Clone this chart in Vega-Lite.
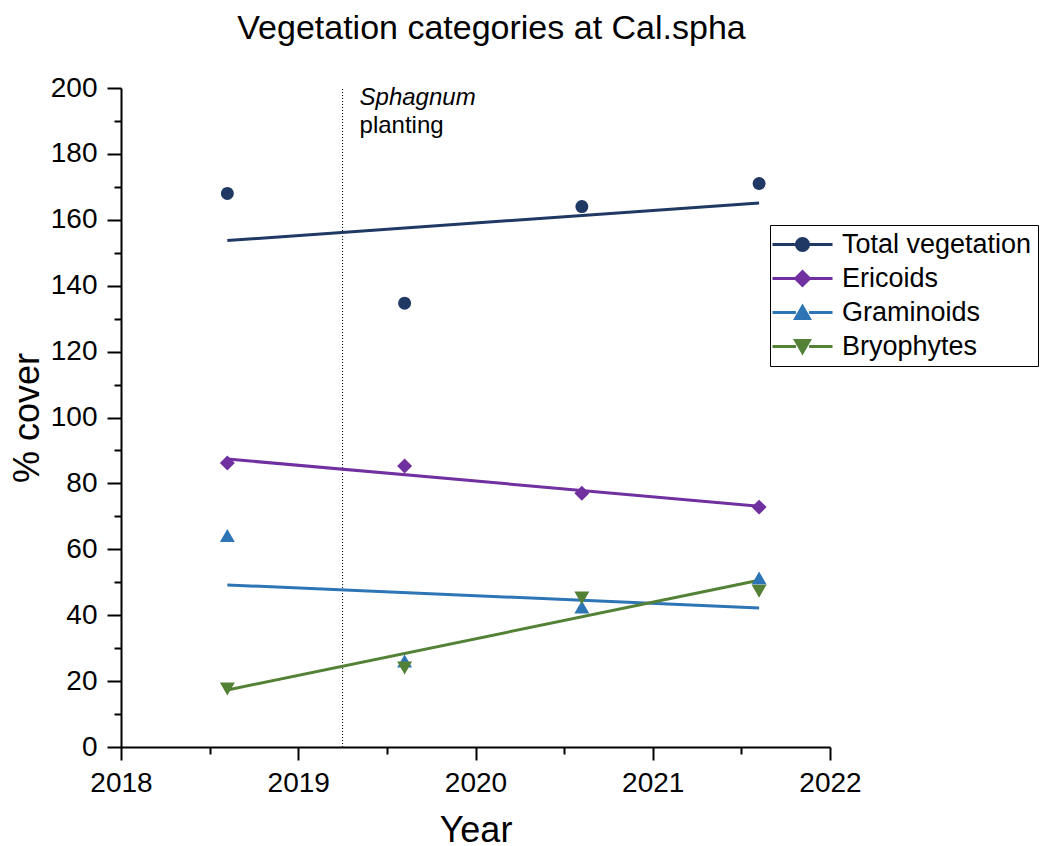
{
  "$schema": "https://vega.github.io/schema/vega-lite/v6.json",
  "width": 709,
  "height": 659,
  "autosize": "none",
  "padding": {"left": 121, "top": 88, "right": 212, "bottom": 99},
  "title": {"text": "Vegetation categories at Cal.spha", "fontSize": 34, "fontWeight": "normal", "font": "Liberation Sans", "color": "black", "anchor": "middle", "frame": "group", "dx": 16, "offset": 28},
  "datasets": {
    "points": [
      {"series": "Total vegetation", "year": 2018.6, "cover": 168},
      {"series": "Total vegetation", "year": 2019.6, "cover": 134.7},
      {"series": "Total vegetation", "year": 2020.6, "cover": 164},
      {"series": "Total vegetation", "year": 2021.6, "cover": 171},
      {"series": "Ericoids", "year": 2018.6, "cover": 86.2},
      {"series": "Ericoids", "year": 2019.6, "cover": 85.3},
      {"series": "Ericoids", "year": 2020.6, "cover": 77},
      {"series": "Ericoids", "year": 2021.6, "cover": 72.8},
      {"series": "Graminoids", "year": 2018.6, "cover": 64.2},
      {"series": "Graminoids", "year": 2019.6, "cover": 26.1},
      {"series": "Graminoids", "year": 2020.6, "cover": 42.5},
      {"series": "Graminoids", "year": 2021.6, "cover": 51.3},
      {"series": "Bryophytes", "year": 2018.6, "cover": 17.6},
      {"series": "Bryophytes", "year": 2019.6, "cover": 24},
      {"series": "Bryophytes", "year": 2020.6, "cover": 45.2},
      {"series": "Bryophytes", "year": 2021.6, "cover": 47.3}
    ],
    "fits": [
      {"series": "Total vegetation", "year": 2018.6, "cover": 153.7},
      {"series": "Total vegetation", "year": 2021.6, "cover": 165.1},
      {"series": "Ericoids", "year": 2018.6, "cover": 87.4},
      {"series": "Ericoids", "year": 2021.6, "cover": 73.1},
      {"series": "Graminoids", "year": 2018.6, "cover": 49.2},
      {"series": "Graminoids", "year": 2021.6, "cover": 42.2},
      {"series": "Bryophytes", "year": 2018.6, "cover": 17.3},
      {"series": "Bryophytes", "year": 2021.6, "cover": 50.6}
    ]
  },
  "encoding": {
    "x": {"field": "year", "type": "quantitative",
      "scale": {"domain": [2018, 2022], "nice": false, "zero": false},
      "axis": {"title": "Year", "values": [2018, 2018.5, 2019, 2019.5, 2020, 2020.5, 2021, 2021.5, 2022],
        "labelExpr": "datum.value % 1 ? '' : format(datum.value, 'd')",
        "tickSize": {"condition": {"test": "datum.value % 1 !== 0", "value": 7}, "value": 13},
        "labelPadding": 9, "titlePadding": 16, "labelFlush": false, "labelOverlap": false}},
    "y": {"field": "cover", "type": "quantitative",
      "scale": {"domain": [0, 200], "nice": false},
      "axis": {"title": "% cover", "values": [0,10,20,30,40,50,60,70,80,90,100,110,120,130,140,150,160,170,180,190,200],
        "labelExpr": "datum.value % 20 ? '' : format(datum.value, 'd')",
        "tickSize": {"condition": {"test": "datum.value % 20 !== 0", "value": 7}, "value": 14},
        "labelPadding": 10, "titlePadding": 4, "labelFlush": false, "labelOverlap": false}}
  },
  "layer": [
    {
      "data": {"values": [{"year": 2019.25, "cover": 0, "hi": 200}]},
      "mark": {"type": "rule", "color": "black", "strokeWidth": 1, "strokeDash": [1, 2]},
      "encoding": {"y2": {"field": "hi"}}
    },
    {
      "data": {"name": "fits"},
      "mark": {"type": "line", "strokeWidth": 3},
      "encoding": {
        "color": {"field": "series", "type": "nominal",
          "scale": {"domain": ["Total vegetation", "Ericoids", "Graminoids", "Bryophytes"], "range": ["#1f3864", "#7030a0", "#2e75b6", "#538135"]}}
      }
    },
    {
      "data": {"name": "points"},
      "mark": {"type": "point", "filled": true, "opacity": 1, "size": 169},
      "encoding": {
        "color": {"field": "series", "type": "nominal",
          "scale": {"domain": ["Total vegetation", "Ericoids", "Graminoids", "Bryophytes"], "range": ["#1f3864", "#7030a0", "#2e75b6", "#538135"]},
          "legend": {"title": null, "labelLimit": 400}},
        "shape": {"field": "series", "type": "nominal",
          "scale": {"domain": ["Total vegetation", "Ericoids", "Graminoids", "Bryophytes"], "range": [
            "M-5,0H-1M1,0H5M1,0L0.924,0.383L0.707,0.707L0.383,0.924L0,1L-0.383,0.924L-0.707,0.707L-0.924,0.383L-1,0L-0.924,-0.383L-0.707,-0.707L-0.383,-0.924L0,-1L0.383,-0.924L0.707,-0.707L0.924,-0.383Z",
            "M-5,0H-1.15M1.15,0H5M-1.15,0L0,-1.15L1.15,0L0,1.15Z",
            "M-5,0H-1.1M1.1,0H5M0,-1L1.15,1L-1.15,1Z",
            "M-5,0H-1.1M1.1,0H5M0,1L1.15,-1L-1.15,-1Z"]},
          "legend": {"title": null, "labelLimit": 400}}
      }
    },
    {
      "data": {"values": [{"year": 2019.25, "cover": 200, "label": "Sphagnum"}]},
      "mark": {"type": "text", "align": "left", "baseline": "top", "dx": 17, "dy": -2, "fontSize": 24, "fontStyle": "italic", "font": "Liberation Sans", "color": "black"},
      "encoding": {"text": {"field": "label"}}
    },
    {
      "data": {"values": [{"year": 2019.25, "cover": 200, "label": "planting"}]},
      "mark": {"type": "text", "align": "left", "baseline": "top", "dx": 17, "dy": 26, "fontSize": 24, "font": "Liberation Sans", "color": "black"},
      "encoding": {"text": {"field": "label"}}
    }
  ],
  "config": {
    "font": "Liberation Sans",
    "view": {"stroke": null},
    "axis": {"domainColor": "black", "domainWidth": 2, "tickColor": "black", "tickWidth": 2, "labelColor": "black", "labelFontSize": 28, "labelFont": "Liberation Sans", "titleFont": "Liberation Sans", "titleFontSize": 36, "titleFontWeight": "normal", "titleColor": "black", "grid": false},
    "legend": {
      "orient": "none", "legendX": 649, "legendY": 137,
      "labelFontSize": 27, "labelFont": "Liberation Sans", "labelColor": "black", "labelLimit": 400,
      "strokeColor": "black", "fillColor": "white", "padding": 6, "cornerRadius": 0,
      "symbolSize": 144, "symbolOffset": 13, "labelOffset": 26, "rowPadding": 6,
      "symbolStrokeWidth": 3,
      "symbolOpacity": 1
    }
  }
}
